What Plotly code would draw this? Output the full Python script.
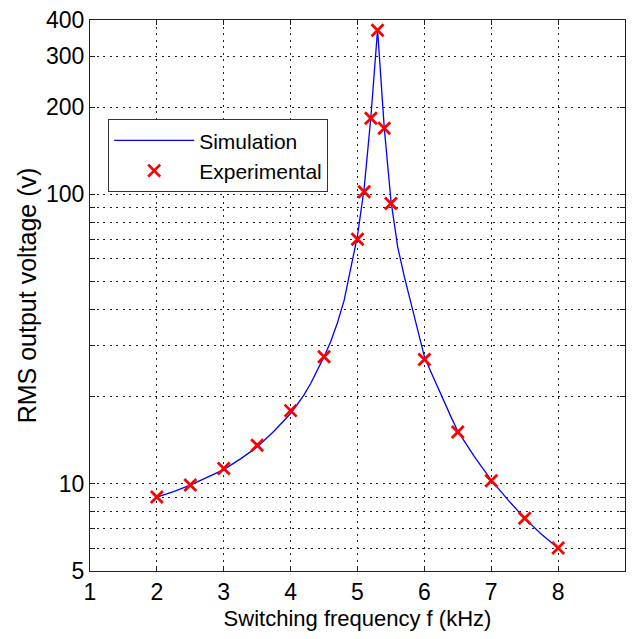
import plotly.graph_objects as go

# Experimental data
exp_f = [2.0, 2.5, 3.0, 3.5, 4.0, 4.5, 5.0, 5.1, 5.2, 5.3, 5.4, 5.5, 6.0, 6.5, 7.0, 7.5, 8.0]
exp_v = [9.0, 9.9, 11.3, 13.6, 17.9, 27.5, 70, 102, 183, 369, 169, 93, 26.9, 15.1, 10.25, 7.6, 6.0]

# Simulation curve
sim_f = [2.0, 2.25, 2.5, 2.75, 3.0, 3.25, 3.5, 3.75, 4.0, 4.1, 4.2, 4.3, 4.4, 4.5, 4.6, 4.7,
         4.8, 4.9, 5.0, 5.1, 5.2, 5.3, 5.4, 5.5, 5.6, 5.7, 5.8, 5.9, 6.0, 6.1, 6.2, 6.3, 6.4,
         6.5, 6.75, 7.0, 7.25, 7.5, 7.75, 8.0]
sim_v = [9.0, 9.4, 9.9, 10.5, 11.2, 12.2, 13.4, 15.2, 17.5, 18.8, 20.3, 22.2, 24.6, 27.5, 31, 36,
         43, 55, 72, 105, 185, 370, 170, 95, 66, 52, 42, 34, 27.5, 24.3, 21.5, 19.2, 17.0,
         15.2, 12.4, 10.3, 8.8, 7.6, 6.7, 6.0]

x_ticks = [1, 2, 3, 4, 5, 6, 7, 8]
y_grid = [5, 6, 7, 8, 9, 10, 20, 30, 40, 50, 60, 70, 80, 90, 100, 200, 300, 400]
y_labeled = [5, 10, 100, 200, 300, 400]
y_text = [str(v) if v in y_labeled else "" for v in y_grid]

fig = go.Figure()
fig.add_trace(go.Scatter(x=sim_f, y=sim_v, mode="lines", name="Simulation",
                         line=dict(color="#0000ff", width=1.3)))
fig.add_trace(go.Scatter(x=exp_f, y=exp_v, mode="markers", name="Experimental",
                         marker=dict(symbol="x-thin", size=12, color="#ff0000",
                                     line=dict(color="#ff0000", width=2.8))))

axis_common = dict(showline=True, linecolor="#222222", linewidth=1, mirror="allticks",
                   ticks="inside", ticklen=5, tickcolor="#222222",
                   showgrid=True, gridcolor="#222222", gridwidth=1, griddash="2px,4.5px",
                   zeroline=False, tickfont=dict(size=23, color="black"))

fig.update_layout(
    width=633, height=639,
    margin=dict(l=90, r=7, t=17, b=68),
    paper_bgcolor="white", plot_bgcolor="white",
    font=dict(family="Liberation Sans, Arial, sans-serif", color="black"),
    showlegend=True,
    legend=dict(x=0.034, y=0.82, xanchor="left", yanchor="top",
                bgcolor="white", bordercolor="#333333", borderwidth=1,
                font=dict(size=21), itemwidth=80, tracegroupgap=0),
    xaxis=dict(range=[1, 9], tickvals=x_ticks,
               title=dict(text="Switching frequency f (kHz)", font=dict(size=22), standoff=7),
               **axis_common),
    yaxis=dict(type="log", range=[0.69897, 2.60206], tickvals=y_grid, ticktext=y_text,
               title=dict(text="RMS output voltage (v)", font=dict(size=25), standoff=2),
               **axis_common),
)

fig.write_html("out.html")
